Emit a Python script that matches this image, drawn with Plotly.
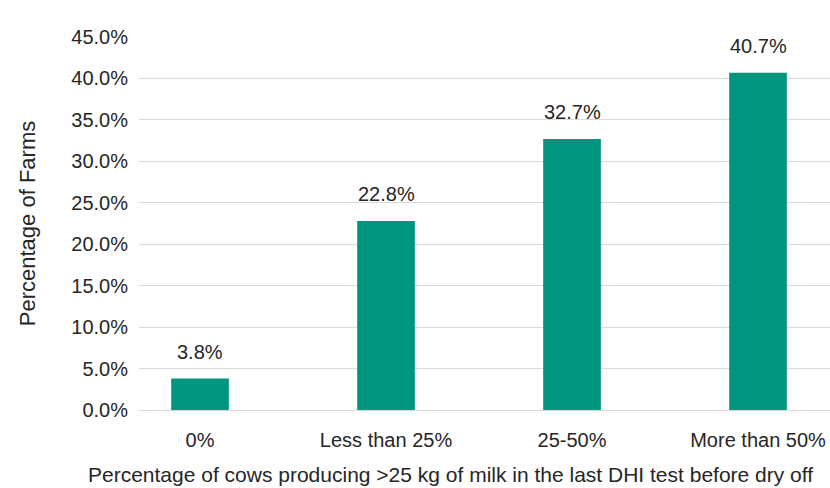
import plotly.graph_objects as go

categories = ["0%", "Less than 25%", "25-50%", "More than 50%"]
farm_pct = [3.8, 22.8, 32.7, 40.7]
y_ticks = [0, 5, 10, 15, 20, 25, 30, 35, 40, 45]
y_tick_labels = [f"{v:.1f}%" for v in y_ticks]
x_title = "Percentage of cows producing >25 kg of milk in the last DHI test before dry off"

BAR_COLOR = "#00957F"
FONT = "Liberation Sans, Arial, sans-serif"
TEXT = "#262626"

fig = go.Figure()
fig.add_trace(go.Bar(
    x=list(range(len(categories))),
    y=farm_pct,
    width=0.31,
    marker=dict(color=BAR_COLOR, line=dict(width=0)),
    hoverinfo="skip",
))

for i, v in enumerate(farm_pct):
    fig.add_annotation(
        x=i, y=v, text=f"{v:.1f}%", showarrow=False,
        yanchor="middle", yshift=27,
        font=dict(family=FONT, size=20, color=TEXT),
    )

# x-axis title, centred under the whole figure
fig.add_annotation(
    xref="paper", yref="paper", x=0.4515, y=-0.174,
    xanchor="center", yanchor="middle", showarrow=False,
    text=x_title, font=dict(family=FONT, size=21, color=TEXT),
)

fig.update_layout(
    width=830, height=488,
    margin=dict(l=139, r=0, t=37, b=78),
    paper_bgcolor="white", plot_bgcolor="white",
    showlegend=False,
    font=dict(family=FONT, color=TEXT),
    xaxis=dict(
        range=[-0.328, 3.387],
        tickmode="array",
        tickvals=list(range(len(categories))),
        ticktext=categories,
        tickfont=dict(size=20, color=TEXT),
        showgrid=False, zeroline=False, showline=False,
        ticks="", ticklen=0, ticklabelstandoff=16,
    ),
    yaxis=dict(
        range=[0, 45],
        tickmode="array",
        tickvals=y_ticks,
        ticktext=y_tick_labels,
        tickfont=dict(size=20, color=TEXT),
        showgrid=True, gridcolor="#D9D9D9", gridwidth=1.3,
        zeroline=True, zerolinecolor="#D9D9D9", zerolinewidth=1.3,
        showline=False, ticks="", ticklabelstandoff=10,
        title=dict(text="Percentage of Farms", font=dict(size=22, color=TEXT), standoff=29),
    ),
)

fig.write_html("out.html")
